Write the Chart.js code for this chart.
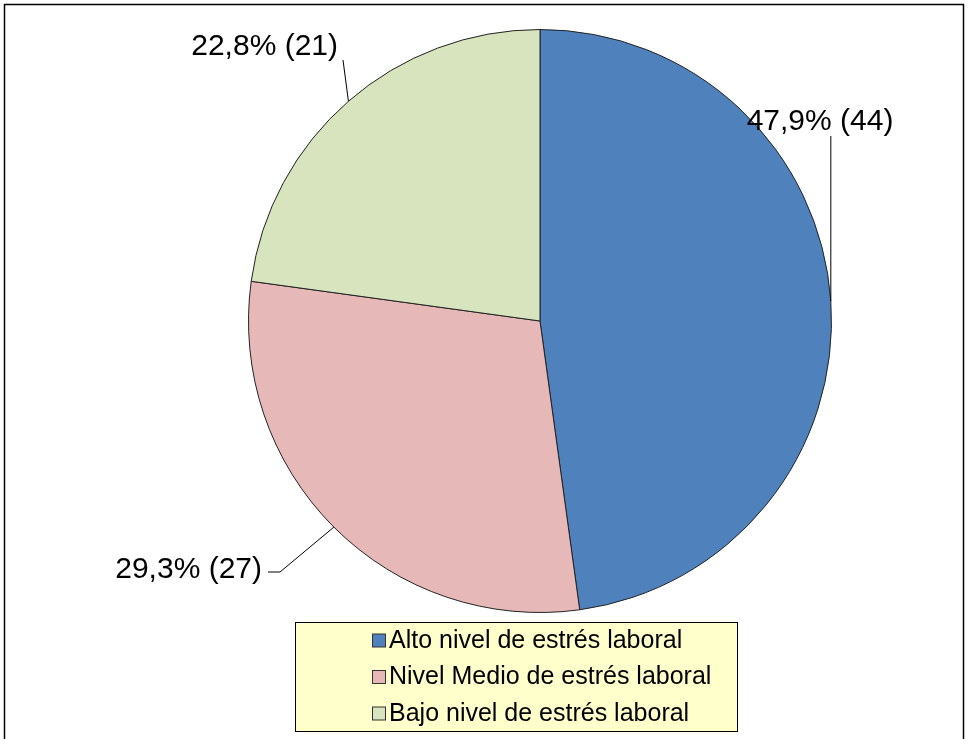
<!DOCTYPE html>
<html>
<head>
<meta charset="utf-8">
<script src="https://cdn.jsdelivr.net/npm/chart.js@4"></script>
<style>
  body { margin: 0; background: #fff; }
  canvas { display: block; }
</style>
</head>
<body>
<canvas id="pie-chart" width="968" height="739"></canvas>
<script>
// Niveles de estrés laboral (n = 92)
const categories = ['Alto nivel de estrés laboral', 'Nivel Medio de estrés laboral', 'Bajo nivel de estrés laboral'];
const counts = [44, 27, 21];
const percents = ['47,9%', '29,3%', '22,8%'];
const colors = ['#4F81BD', '#E6B9B8', '#D7E4BD'];

// where each data label sits and how its leader line bends
const labelLayout = [
    { text: [820, 122], align: 'center', elbow: null, end: [835, 136], straightUp: true },
    { text: [262, 570], align: 'right', elbow: [280, 572], end: [268, 572] },
    { text: [338, 47], align: 'right', elbow: null, end: [343, 60] },
];

const FONT = '"Liberation Sans", Arial, sans-serif';

// white page with the thin outer frame
const framePlugin = {
    id: 'frame',
    beforeDraw(chart) {
        const ctx = chart.ctx;
        ctx.save();
        ctx.fillStyle = '#fff';
        ctx.fillRect(0, 0, chart.width, chart.height);
        ctx.strokeStyle = '#000';
        ctx.lineWidth = 1.5;
        ctx.strokeRect(4.5, 4.5, 959, chart.height + 10);
        ctx.restore();
    },
};

// value labels with leader lines
const labelPlugin = {
    id: 'pieLabels',
    afterDatasetsDraw(chart) {
        const ctx = chart.ctx;
        const arcs = chart.getDatasetMeta(0).data;
        ctx.save();
        arcs.forEach((arc, i) => {
            const lay = labelLayout[i];
            const mid = (arc.startAngle + arc.endAngle) / 2;
            const ax = arc.x + Math.cos(mid) * arc.outerRadius;
            const ay = arc.y + Math.sin(mid) * arc.outerRadius;

            ctx.strokeStyle = '#000';
            ctx.lineWidth = 1;
            ctx.beginPath();
            ctx.moveTo(ax, ay);
            if (lay.straightUp) {
                ctx.lineTo(ax, lay.end[1]);
            } else {
                if (lay.elbow) ctx.lineTo(lay.elbow[0], lay.elbow[1]);
                ctx.lineTo(lay.end[0], lay.end[1]);
            }
            ctx.stroke();

            ctx.fillStyle = '#000';
            ctx.font = '30px ' + FONT;
            ctx.textAlign = lay.align;
            ctx.textBaseline = 'middle';
            ctx.fillText(percents[i] + ' (' + counts[i] + ')', lay.text[0], lay.text[1]);
        });
        ctx.restore();
    },
};

// boxed legend under the pie
const legendPlugin = {
    id: 'boxLegend',
    afterDraw(chart) {
        const ctx = chart.ctx;
        const box = { x: 295.5, y: 622.5, w: 442, h: 109 };
        ctx.save();
        ctx.fillStyle = '#FFFFCC';
        ctx.fillRect(box.x, box.y, box.w, box.h);
        ctx.strokeStyle = '#000';
        ctx.lineWidth = 1;
        ctx.strokeRect(box.x, box.y, box.w, box.h);

        ctx.font = '25px ' + FONT;
        ctx.textAlign = 'left';
        ctx.textBaseline = 'middle';
        categories.forEach((name, i) => {
            const cy = 640 + i * 36.5;
            ctx.fillStyle = colors[i];
            ctx.fillRect(372.5, cy - 6, 13, 13);
            ctx.strokeStyle = '#333';
            ctx.strokeRect(372.5, cy - 6, 13, 13);
            ctx.fillStyle = '#000';
            ctx.fillText(name, 389, cy + 1);
        });
        ctx.restore();
    },
};

new Chart(document.getElementById('pie-chart'), {
    type: 'pie',
    data: {
        labels: categories,
        datasets: [{
            data: counts,
            backgroundColor: colors,
            borderColor: '#222',
            borderWidth: 1,
        }],
    },
    options: {
        responsive: false,
        animation: false,
        layout: {
            padding: { left: 248, right: 136, top: 29, bottom: 126 },
        },
        plugins: {
            legend: { display: false },
            tooltip: { enabled: false },
        },
    },
    plugins: [framePlugin, labelPlugin, legendPlugin],
});
</script>
</body>
</html>
